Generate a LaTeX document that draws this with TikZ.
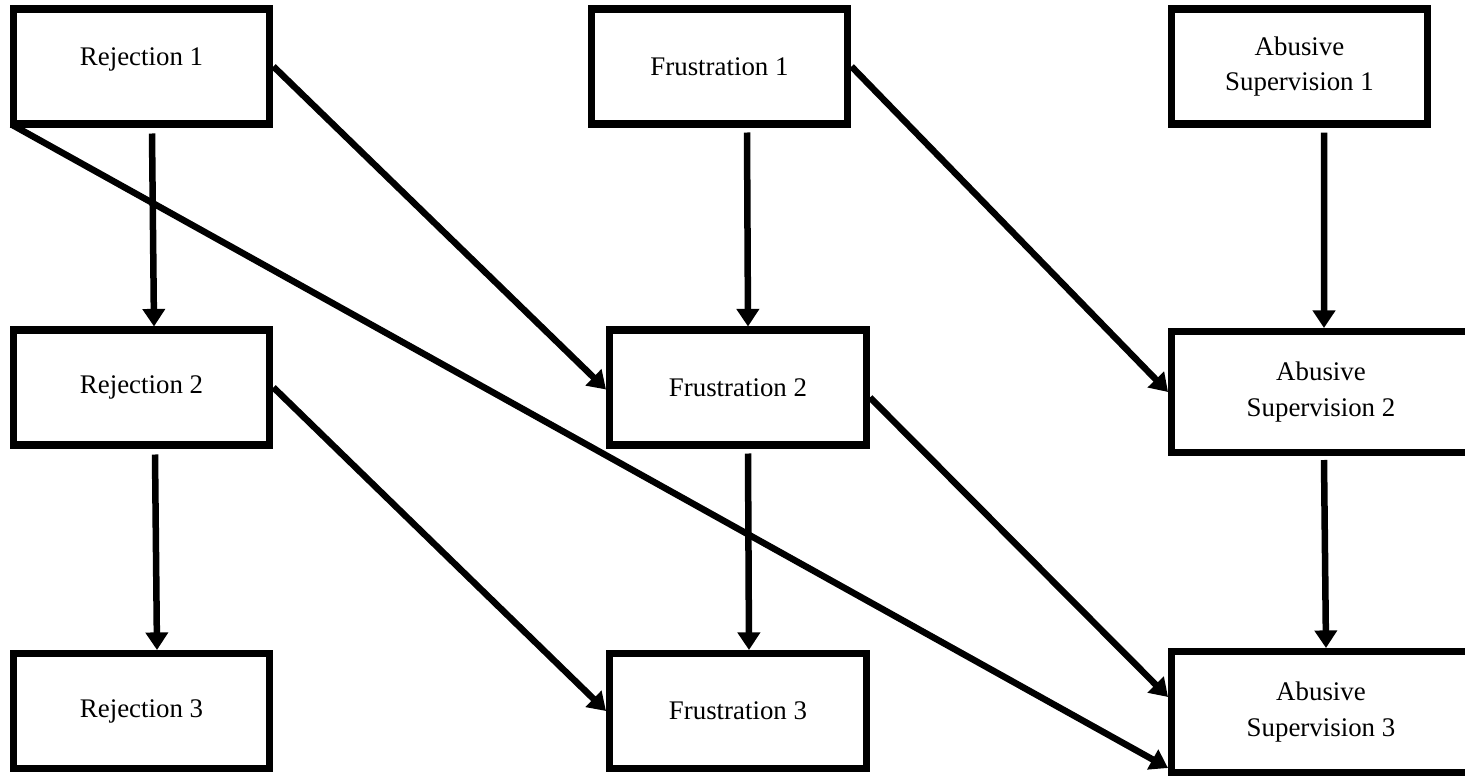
\documentclass[tikz,border=0pt]{standalone}
\usepackage{fontspec}
\setmainfont{Liberation Serif}
\usetikzlibrary{arrows.meta}

\begin{document}
\begin{tikzpicture}[->,>={Triangle[length=10pt,width=12.5pt]},line width=3.7pt,x=0.02cm,y=-0.02cm]
    \tikzstyle{box}=[draw=black, rectangle, line width=4pt, minimum width=5.14cm, minimum height=2.3cm, fill=white, text=black, align=center, font=\fontsize{15.3}{20}\selectfont]
    \tikzstyle{wide}=[style=box, minimum width=5.98cm, minimum height=2.42cm]

    \useasboundingbox (0,0) rectangle (1465,777);

    \node[box,text depth=0.38cm] (r1) at (141.5,66.5) {Rejection 1};
    \node[box]  (f1) at (719.5,66.5) {Frustration 1};
    \node[box]  (a1) at (1299.5,66.5) {Abusive\\Supervision 1};
    \node[box]  (r2) at (141.5,387.5) {Rejection 2};
    \node[box]  (f2) at (738,387.5)  {Frustration 2};
    \node[wide] (a2) at (1321,392)   {Abusive\\Supervision 2};
    \node[box]  (r3) at (141.5,711)  {Rejection 3};
    \node[box]  (f3) at (738,711)    {Frustration 3};
    \node[wide] (a3) at (1321,712)   {Abusive\\Supervision 3};
    \path
     ([shift={(10.5,6)}]r1.south) edge ([shift={(12.5,0)}]r2.north)
     ([shift={(13.5,6)}]r2.south) edge ([shift={(15.5,0)}]r3.north)
     ([shift={(27.5,5)}]f1.south) edge ([shift={(10,0)}]f2.north)
     ([shift={(10,5)}]f2.south)   edge ([shift={(11,0)}]f3.north)
     ([shift={(24.5,5)}]a1.south) edge ([shift={(3,0)}]a2.north)
     ([shift={(3,4)}]a2.south)    edge ([shift={(5,0)}]a3.north)
     (r1.east) edge ([shift={(0,2)}]f2.west)
     (f1.east) edge (a2.west)
     (r2.east) edge (f3.west)
     ([shift={(0,10)}]f2.east) edge ([shift={(0,-15)}]a3.west)
     ([shift={(2,-3)}]r1.south west) edge ([shift={(0,-8)}]a3.south west)
     ;
\end{tikzpicture}
\end{document}
